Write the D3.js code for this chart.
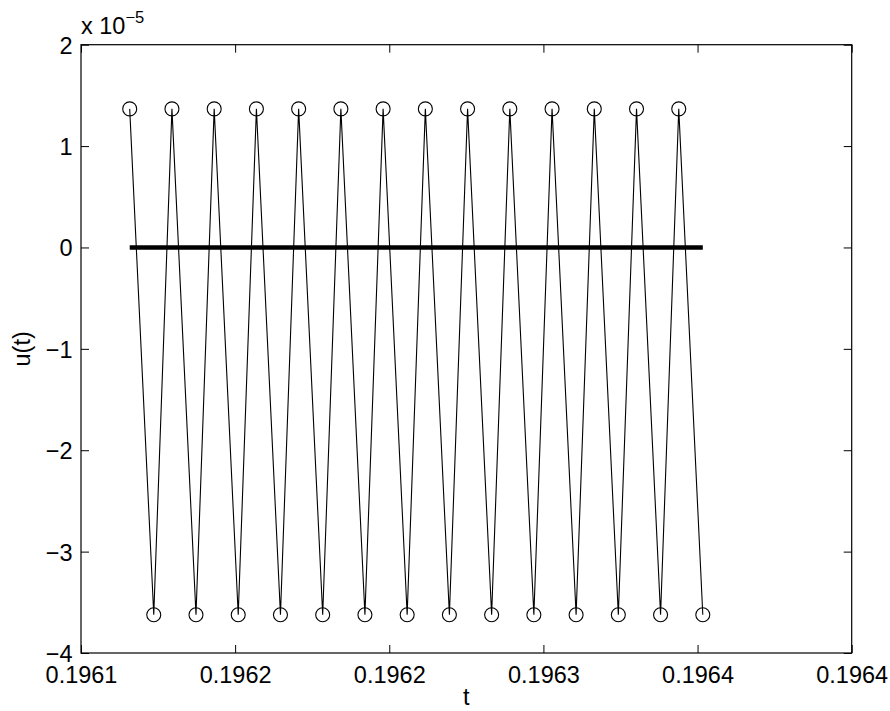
<!DOCTYPE html>
<html>
<head>
<meta charset="utf-8">
<script src="https://cdn.jsdelivr.net/npm/d3@7"></script>
<style>
  html, body { margin: 0; padding: 0; background: #fff; }
  svg { display: block; }
  text { font-family: "Liberation Sans", Arial, Helvetica, sans-serif; fill: #000; }
</style>
</head>
<body>
<svg id="chart" width="890" height="711"></svg>
<script>
// Sampled response u(t): alternating samples around a zero mean
const tValues = [
  0.1961658, 0.1961736, 0.1961795, 0.1961873, 0.1961932, 0.1962010,
  0.1962069, 0.1962147, 0.1962206, 0.1962284, 0.1962343, 0.1962421,
  0.1962480, 0.1962558, 0.1962617, 0.1962695, 0.1962754, 0.1962832,
  0.1962891, 0.1962969, 0.1963028, 0.1963106, 0.1963165, 0.1963243,
  0.1963302, 0.1963380, 0.1963439, 0.1963517
];
const uValues = [
  1.367e-5, -3.623e-5, 1.367e-5, -3.623e-5, 1.367e-5, -3.623e-5,
  1.367e-5, -3.623e-5, 1.367e-5, -3.623e-5, 1.367e-5, -3.623e-5,
  1.367e-5, -3.623e-5, 1.367e-5, -3.623e-5, 1.367e-5, -3.623e-5,
  1.367e-5, -3.623e-5, 1.367e-5, -3.623e-5, 1.367e-5, -3.623e-5,
  1.367e-5, -3.623e-5, 1.367e-5, -3.623e-5
];
// Reference level drawn across the sampled span
const refLevel = [0, 0];

// Axis ticks and their printed labels
const xTickValues = [0.19615, 0.19620, 0.19625, 0.19630, 0.19635, 0.19640];
const xTickLabels = ["0.1961", "0.1962", "0.1962", "0.1963", "0.1964", "0.1964"];
const yTickValues = [2, 1, 0, -1, -2, -3, -4];
const yTickLabels = ["2", "1", "0", "\u22121", "\u22122", "\u22123", "\u22124"];
const yExponent = -5;

const W = 890, H = 711;
const margin = { left: 81, top: 44.7, right: 38.3, bottom: 58 };
const iw = W - margin.left - margin.right;
const ih = H - margin.top - margin.bottom;
const tickLen = 8;
const fontSize = 23.5;

const svg = d3.select("#chart");
const g = svg.append("g").attr("transform", `translate(${margin.left},${margin.top})`);

const x = d3.scaleLinear().domain([0.19615, 0.19640]).range([0, iw]);
const yScaled = d3.scaleLinear().domain([-4, 2]).range([ih, 0]);
const y = v => yScaled(v / Math.pow(10, yExponent));

const data = tValues.map((t, i) => ({ t, u: uValues[i] }));

// Zero reference line
const tSpan = [tValues[0], tValues[tValues.length - 1]];
g.append("path")
  .datum(tSpan.map((t, i) => ({ t, u: refLevel[i] })))
  .attr("fill", "none")
  .attr("stroke", "#000")
  .attr("stroke-width", 4.5)
  .attr("d", d3.line().x(d => x(d.t)).y(d => y(d.u)));

// Sample trace
g.append("path")
  .datum(data)
  .attr("fill", "none")
  .attr("stroke", "#000")
  .attr("stroke-width", 1.1)
  .attr("d", d3.line().x(d => x(d.t)).y(d => y(d.u)));

// Circle markers
g.selectAll("circle.mk")
  .data(data)
  .join("circle")
  .attr("class", "mk")
  .attr("cx", d => x(d.t))
  .attr("cy", d => y(d.u))
  .attr("r", 7)
  .attr("fill", "none")
  .attr("stroke", "#000")
  .attr("stroke-width", 1.1);

// Axes box
g.append("rect")
  .attr("x", 0).attr("y", 0)
  .attr("width", iw).attr("height", ih)
  .attr("fill", "none")
  .attr("stroke", "#000")
  .attr("stroke-width", 1.2);

// Inward ticks on all four sides
const xAxisBottom = d3.axisBottom(x).tickValues(xTickValues)
  .tickSize(-tickLen).tickPadding(13).tickFormat((d, i) => xTickLabels[i]);
const xAxisTop = d3.axisTop(x).tickValues(xTickValues).tickSize(-tickLen).tickFormat("");
const yAxisLeft = d3.axisLeft(yScaled).tickValues(yTickValues)
  .tickSize(-tickLen).tickPadding(8.5).tickFormat((d, i) => yTickLabels[i]);
const yAxisRight = d3.axisRight(yScaled).tickValues(yTickValues).tickSize(-tickLen).tickFormat("");

function styleAxis(sel) {
  sel.select(".domain").remove();
  sel.selectAll(".tick line").attr("stroke", "#000").attr("stroke-width", 1);
  sel.selectAll(".tick text")
    .style("font-size", fontSize + "px")
    .attr("fill", "#000");
}

g.append("g").attr("transform", `translate(0,${ih})`).call(xAxisBottom).call(styleAxis)
  .selectAll(".tick text").attr("dy", null).attr("y", 29.5);
g.append("g").call(xAxisTop).call(styleAxis);
g.append("g").call(yAxisLeft).call(styleAxis)
  .selectAll(".tick text").attr("dy", null).attr("y", 8.5);
g.append("g").attr("transform", `translate(${iw},0)`).call(yAxisRight).call(styleAxis);

// Exponent multiplier
const mult = svg.append("text")
  .attr("x", margin.left)
  .attr("y", 34.3)
  .style("font-size", fontSize + "px");
mult.append("tspan").text("x 10");
mult.append("tspan")
  .attr("dy", -11)
  .style("font-size", "16.5px")
  .text("\u2212" + Math.abs(yExponent));

// Axis labels
svg.append("text")
  .attr("x", margin.left + iw / 2)
  .attr("y", 705)
  .attr("text-anchor", "middle")
  .style("font-size", fontSize + "px")
  .text("t");

svg.append("text")
  .attr("transform", `translate(30,${margin.top + ih / 2}) rotate(-90)`)
  .attr("text-anchor", "middle")
  .style("font-size", fontSize + "px")
  .text("u(t)");
</script>
</body>
</html>
